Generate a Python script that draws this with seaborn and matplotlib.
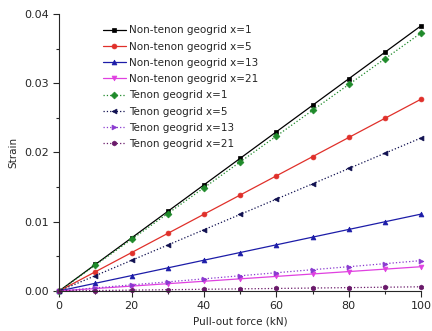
import numpy as np
import pandas as pd
import seaborn as sns
import matplotlib.pyplot as plt
from matplotlib.ticker import MultipleLocator

# Pull-out force (kN)
force = [0, 10, 20, 30, 40, 50, 60, 70, 80, 90, 100]

# Strain values
non_tenon_1 = [0, 0.00383, 0.00766, 0.01149, 0.01532, 0.01915, 0.02298, 0.02681, 0.03064, 0.03447, 0.0383]
non_tenon_5 = [0, 0.00277, 0.00554, 0.00831, 0.01108, 0.01385, 0.01662, 0.01939, 0.02216, 0.02493, 0.0277]
non_tenon_13 = [0, 0.00111, 0.00222, 0.00333, 0.00444, 0.00555, 0.00666, 0.00777, 0.00888, 0.00999, 0.0111]
non_tenon_21 = [0, 0.00035, 0.0007, 0.00105, 0.0014, 0.00175, 0.0021, 0.00245, 0.0028, 0.00315, 0.0035]
tenon_1 = [0, 0.00373, 0.00745, 0.01118, 0.0149, 0.01863, 0.02236, 0.02608, 0.02981, 0.03353, 0.03726]
tenon_5 = [0, 0.00221, 0.00442, 0.00663, 0.00884, 0.01105, 0.01326, 0.01547, 0.01768, 0.01989, 0.0221]
tenon_13 = [0, 0.00044, 0.00088, 0.00131, 0.00175, 0.00219, 0.00263, 0.00307, 0.0035, 0.00394, 0.00438]
tenon_21 = [0, 0.00006, 0.00012, 0.00018, 0.00024, 0.0003, 0.00036, 0.00042, 0.00048, 0.00054, 0.0006]

labels = ['Non-tenon geogrid x=1', 'Non-tenon geogrid x=5', 'Non-tenon geogrid x=13',
          'Non-tenon geogrid x=21', 'Tenon geogrid x=1', 'Tenon geogrid x=5',
          'Tenon geogrid x=13', 'Tenon geogrid x=21']
series = [non_tenon_1, non_tenon_5, non_tenon_13, non_tenon_21,
          tenon_1, tenon_5, tenon_13, tenon_21]
colors = ['#000000', '#e0302a', '#1c1ca8', '#e040e0',
          '#1f8a2a', '#101050', '#8a3ad0', '#6a1a6a']
markers = ['s', 'o', '^', 'v', 'D', '<', '>', 'h']
styles = ['-', '-', '-', '-', ':', ':', ':', ':']

sns.set_style('ticks')
plt.rcParams['font.family'] = ['DejaVu Sans']

fig = plt.figure(figsize=(4.32, 3.31), dpi=100)
ax = fig.add_axes([0.137, 0.121, 0.838, 0.837])

for lab, vals, c, m, ls in zip(labels, series, colors, markers, styles):
    df = pd.DataFrame({'force': force, 'strain': vals})
    sns.lineplot(data=df, x='force', y='strain', ax=ax, color=c, marker=m,
                 markersize=3.5, markeredgewidth=0.5, markeredgecolor=c,
                 linestyle=ls, linewidth=0.9, label=lab, clip_on=False)

ax.set_xlim(0, 100)
ax.set_ylim(0, 0.04)
ax.xaxis.set_major_locator(MultipleLocator(20))
ax.xaxis.set_minor_locator(MultipleLocator(10))
ax.yaxis.set_major_locator(MultipleLocator(0.01))
ax.yaxis.set_minor_locator(MultipleLocator(0.005))
ax.yaxis.set_major_formatter(plt.FormatStrFormatter('%.2f'))
ax.tick_params(which='major', length=4, width=0.8, labelsize=8)
ax.tick_params(which='minor', length=2.5, width=0.8)
sns.despine(ax=ax)
ax.set_xlabel('Pull-out force (kN)', fontsize=7.5)
ax.set_ylabel('Strain', fontsize=7.5)

ax.legend(loc='upper left', bbox_to_anchor=(0.1, 0.985), frameon=False,
          fontsize=7.5, handlelength=2.2, labelspacing=0.6, borderpad=0.2,
          handletextpad=0.3)

fig.savefig('out.png', dpi=100)
